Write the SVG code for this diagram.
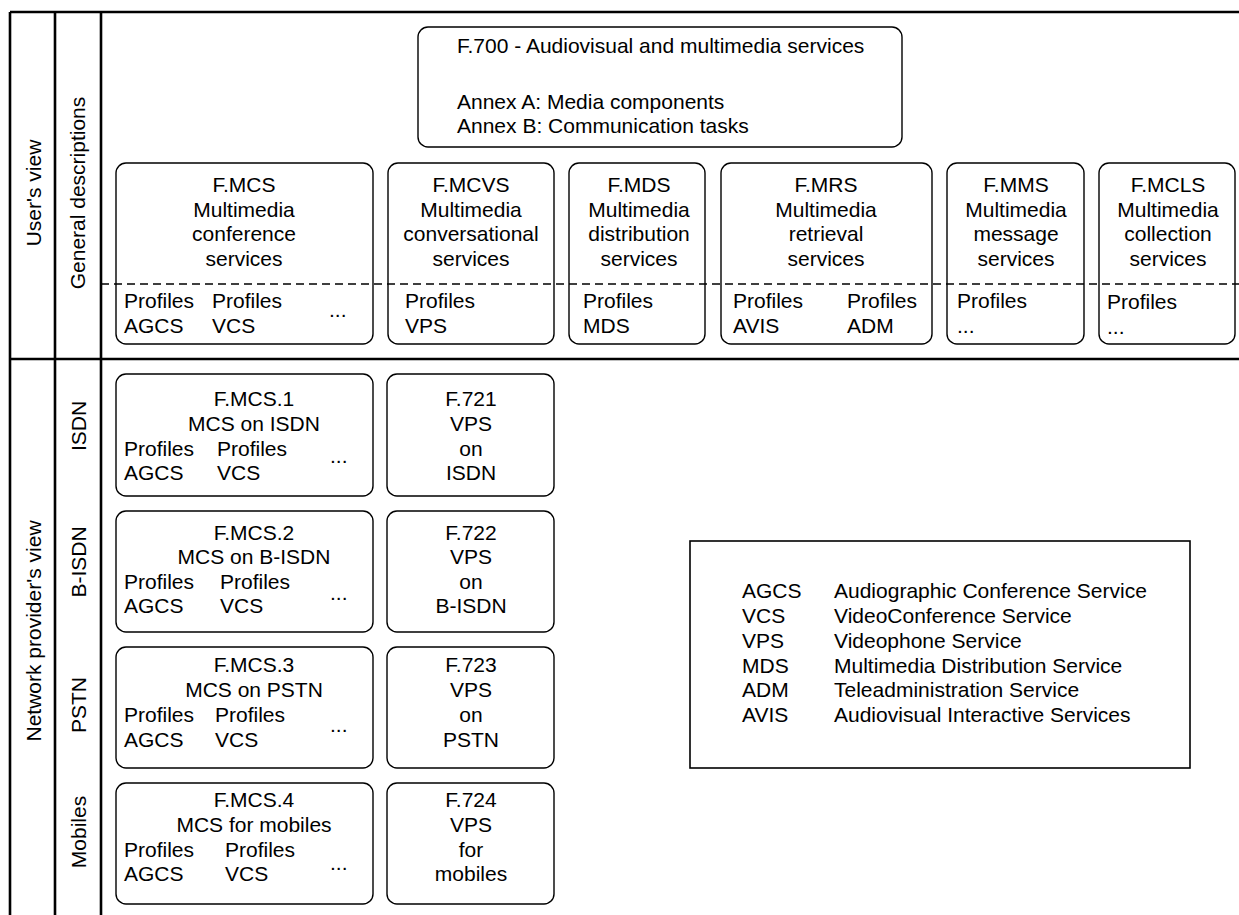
<svg xmlns="http://www.w3.org/2000/svg" width="1239" height="915" viewBox="0 0 1239 915">
<style>
text{font-family:"Liberation Sans",Arial,sans-serif;font-size:21px;fill:#000}
.c{text-anchor:middle}
.box{fill:#fff;stroke:#000;stroke-width:1.4}
.frame{stroke:#000;stroke-width:2.6;fill:none}
.dash{stroke:#000;stroke-width:1.6;stroke-dasharray:8 5;fill:none}
</style>
<rect width="1239" height="915" fill="#fff"/>
<g id="frame">
<line class="frame" x1="10" y1="12" x2="1239" y2="12"/>
<line class="frame" x1="10" y1="359" x2="1239" y2="359"/>
<line class="frame" x1="10" y1="12" x2="10" y2="915"/>
<line class="frame" x1="55" y1="12" x2="55" y2="915"/>
<line class="frame" x1="101" y1="12" x2="101" y2="915"/>
</g>
<g id="side-labels">
<text class="c" transform="translate(41,193) rotate(-90)">User's view</text>
<text class="c" transform="translate(85,193) rotate(-90)">General descriptions</text>
<text class="c" transform="translate(41,631) rotate(-90)">Network provider's view</text>
<text class="c" transform="translate(86,426) rotate(-90)">ISDN</text>
<text class="c" transform="translate(86,562) rotate(-90)">B-ISDN</text>
<text class="c" transform="translate(86,705) rotate(-90)">PSTN</text>
<text class="c" transform="translate(86,832) rotate(-90)">Mobiles</text>
</g>
<g id="f700">
<rect class="box" x="418" y="27" width="484" height="120" rx="10"/>
<text x="457" y="53">F.700 - Audiovisual and multimedia services</text>
<text x="457" y="109">Annex A: Media components</text>
<text x="457" y="133">Annex B: Communication tasks</text>
</g>
<g id="fmcs">
<rect class="box" x="116" y="163" width="257" height="181" rx="10"/>
<text class="c" x="244" y="192">F.MCS</text>
<text class="c" x="244" y="217">Multimedia</text>
<text class="c" x="244" y="241">conference</text>
<text class="c" x="244" y="266">services</text>
<text x="124" y="308">Profiles</text>
<text x="124" y="333">AGCS</text>
<text x="212" y="308">Profiles</text>
<text x="212" y="333">VCS</text>
<text x="329" y="317">...</text>
</g>
<g id="fmcvs">
<rect class="box" x="388" y="163" width="166" height="181" rx="10"/>
<text class="c" x="471" y="192">F.MCVS</text>
<text class="c" x="471" y="217">Multimedia</text>
<text class="c" x="471" y="241">conversational</text>
<text class="c" x="471" y="266">services</text>
<text x="405" y="308">Profiles</text>
<text x="405" y="333">VPS</text>
</g>
<g id="fmds">
<rect class="box" x="569" y="163" width="136" height="181" rx="10"/>
<text class="c" x="639" y="192">F.MDS</text>
<text class="c" x="639" y="217">Multimedia</text>
<text class="c" x="639" y="241">distribution</text>
<text class="c" x="639" y="266">services</text>
<text x="583" y="308">Profiles</text>
<text x="583" y="333">MDS</text>
</g>
<g id="fmrs">
<rect class="box" x="721" y="163" width="211" height="181" rx="10"/>
<text class="c" x="826" y="192">F.MRS</text>
<text class="c" x="826" y="217">Multimedia</text>
<text class="c" x="826" y="241">retrieval</text>
<text class="c" x="826" y="266">services</text>
<text x="733" y="308">Profiles</text>
<text x="733" y="333">AVIS</text>
<text x="847" y="308">Profiles</text>
<text x="847" y="333">ADM</text>
</g>
<g id="fmms">
<rect class="box" x="947" y="163" width="137" height="181" rx="10"/>
<text class="c" x="1016" y="192">F.MMS</text>
<text class="c" x="1016" y="217">Multimedia</text>
<text class="c" x="1016" y="241">message</text>
<text class="c" x="1016" y="266">services</text>
<text x="957" y="308">Profiles</text>
<text x="957" y="333">...</text>
</g>
<g id="fmcls">
<rect class="box" x="1099" y="163" width="136" height="181" rx="10"/>
<text class="c" x="1168" y="192">F.MCLS</text>
<text class="c" x="1168" y="217">Multimedia</text>
<text class="c" x="1168" y="241">collection</text>
<text class="c" x="1168" y="266">services</text>
<text x="1107" y="309">Profiles</text>
<text x="1107" y="334">...</text>
</g>
<g id="divider">
<line class="dash" x1="101" y1="284" x2="1239" y2="284"/>
</g>
<g id="fmcs1">
<rect class="box" x="116" y="374" width="257" height="122" rx="10"/>
<text class="c" x="254" y="406">F.MCS.1</text>
<text class="c" x="254" y="431">MCS on ISDN</text>
<text x="124" y="456">Profiles</text>
<text x="124" y="480">AGCS</text>
<text x="217" y="456">Profiles</text>
<text x="217" y="480">VCS</text>
<text x="330" y="463">...</text>
</g>
<g id="f721">
<rect class="box" x="387" y="374" width="167" height="122" rx="10"/>
<text class="c" x="471" y="406">F.721</text>
<text class="c" x="471" y="431">VPS</text>
<text class="c" x="471" y="456">on</text>
<text class="c" x="471" y="480">ISDN</text>
</g>
<g id="fmcs2">
<rect class="box" x="116" y="511" width="257" height="121" rx="10"/>
<text class="c" x="254" y="540">F.MCS.2</text>
<text class="c" x="254" y="564">MCS on B-ISDN</text>
<text x="124" y="589">Profiles</text>
<text x="124" y="613">AGCS</text>
<text x="220" y="589">Profiles</text>
<text x="220" y="613">VCS</text>
<text x="330" y="600">...</text>
</g>
<g id="f722">
<rect class="box" x="387" y="511" width="167" height="121" rx="10"/>
<text class="c" x="471" y="540">F.722</text>
<text class="c" x="471" y="564">VPS</text>
<text class="c" x="471" y="589">on</text>
<text class="c" x="471" y="613">B-ISDN</text>
</g>
<g id="fmcs3">
<rect class="box" x="116" y="647" width="257" height="121" rx="10"/>
<text class="c" x="254" y="672">F.MCS.3</text>
<text class="c" x="254" y="697">MCS on PSTN</text>
<text x="124" y="722">Profiles</text>
<text x="124" y="747">AGCS</text>
<text x="215" y="722">Profiles</text>
<text x="215" y="747">VCS</text>
<text x="330" y="732">...</text>
</g>
<g id="f723">
<rect class="box" x="387" y="647" width="167" height="121" rx="10"/>
<text class="c" x="471" y="672">F.723</text>
<text class="c" x="471" y="697">VPS</text>
<text class="c" x="471" y="722">on</text>
<text class="c" x="471" y="747">PSTN</text>
</g>
<g id="fmcs4">
<rect class="box" x="116" y="783" width="257" height="121" rx="10"/>
<text class="c" x="254" y="807">F.MCS.4</text>
<text class="c" x="254" y="832">MCS for mobiles</text>
<text x="124" y="857">Profiles</text>
<text x="124" y="881">AGCS</text>
<text x="225" y="857">Profiles</text>
<text x="225" y="881">VCS</text>
<text x="330" y="870">...</text>
</g>
<g id="f724">
<rect class="box" x="387" y="783" width="167" height="121" rx="10"/>
<text class="c" x="471" y="807">F.724</text>
<text class="c" x="471" y="832">VPS</text>
<text class="c" x="471" y="857">for</text>
<text class="c" x="471" y="881">mobiles</text>
</g>
<g id="legend">
<rect x="690" y="541" width="500" height="227" fill="#fff" stroke="#000" stroke-width="1.6"/>
<text x="742" y="598">AGCS</text><text x="834" y="598">Audiographic Conference Service</text>
<text x="742" y="623">VCS</text><text x="834" y="623">VideoConference Service</text>
<text x="742" y="648">VPS</text><text x="834" y="648">Videophone Service</text>
<text x="742" y="673">MDS</text><text x="834" y="673">Multimedia Distribution Service</text>
<text x="742" y="697">ADM</text><text x="834" y="697">Teleadministration Service</text>
<text x="742" y="722">AVIS</text><text x="834" y="722">Audiovisual Interactive Services</text>
</g>
<g id="connectors"></g>
</svg>
